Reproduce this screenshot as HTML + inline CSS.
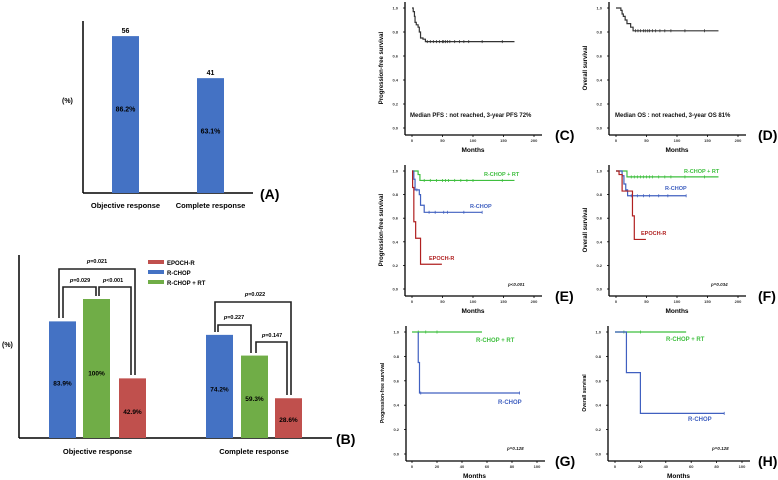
<!DOCTYPE html>
<html><head><meta charset="utf-8">
<style>
html,body{margin:0;padding:0;background:#fff;}
svg{display:block;font-family:"Liberation Sans",sans-serif;}
</style></head>
<body>
<svg id="fig" width="778" height="480" viewBox="0 0 778 480" xmlns="http://www.w3.org/2000/svg"></svg>
<script>
// ---- Panel A data
const aCats = ["Objective response","Complete response"];
const aVals = [86.2, 63.1];
const aCounts = ["56","41"];
// ---- Panel B data
const bCats = ["Objective response","Complete response"];
const bSeries = ["EPOCH-R","R-CHOP","R-CHOP + RT"];
const bBlue = [83.9, 74.2];
const bGreen = [100, 59.3];
const bRed = [42.9, 28.6];
// ---- KM data: [month, survival] step points
const cPFS = [[0,1],[2,0.97],[4,0.93],[5,0.88],[7,0.86],[10,0.84],[12,0.80],[14,0.75],[18,0.74],[22,0.72],[168,0.72]];
const cCens = [25,30,35,40,45,50,52,55,58,62,70,78,85,93,115,148];
const dOS = [[0,1],[8,0.98],[10,0.95],[12,0.93],[15,0.90],[18,0.87],[24,0.84],[28,0.81],[168,0.81]];
const dCens = [32,36,40,45,48,52,55,60,65,72,80,90,113,145];
const eGreen = [[0,1],[10,0.97],[13,0.92],[168,0.92]];
const eGreenCens = [20,30,40,50,55,60,70,80,90,100,148];
const eBlue = [[0,1],[3,0.93],[5,0.84],[12,0.80],[14,0.71],[20,0.65],[115,0.65]];
const eBlueCens = [8,28,38,52,58,85,115];
const eRed = [[0,1],[1,0.86],[3,0.57],[6,0.43],[14,0.21],[49,0.21]];
const fGreen = [[0,1],[18,0.95],[168,0.95]];
const fGreenCens = [25,30,35,40,45,50,55,60,70,80,90,113,145];
const fBlue = [[0,1],[10,0.96],[13,0.89],[16,0.84],[19,0.79],[115,0.79]];
const fBlueCens = [25,35,45,55,70,85,115];
const fRed = [[0,1],[5,0.97],[10,0.83],[27,0.62],[30,0.42],[49,0.42]];
const gGreen = [[0,1],[56,1]];
const gGreenCens = [5,11,20];
const gBlue = [[5,1],[5,0.75],[6,0.5],[86,0.5]];
const gBlueCens = [7,86];
const hGreen = [[0,1],[56,1]];
const hGreenCens = [7,20];
const hBlue = [[0,1],[9,0.667],[20,0.333],[86,0.333]];
const hBlueCens = [86];
const kmTicks200 = ["0","50","100","150","200"];
const kmTicks100 = ["0","20","40","60","80","100"];
const yTicks = ["0.0","0.2","0.4","0.6","0.8","1.0"];

const NS="http://www.w3.org/2000/svg";
const svg=document.getElementById('fig');
function mk(tag,attrs,parent){const e=document.createElementNS(NS,tag);for(const k in attrs)e.setAttribute(k,attrs[k]);(parent||svg).appendChild(e);return e;}
function txt(s,x,y,attrs,parent){const t=mk('text',Object.assign({x:x,y:y},attrs),parent);t.textContent=s;return t;}

const BLUE="#4472c4",GREEN="#70ad47",RED="#c0504d";

// ===== Panel A
(function(){
  const g=mk('g',{});
  
  
  const x0=83,base=193,scale=1.82;
  const ya=v=>base-v*scale;
  mk('line',{x1:x0,y1:21,x2:x0,y2:base,stroke:'#000','stroke-width':1.5},g);
  mk('line',{x1:x0,y1:base,x2:253,y2:base,stroke:'#000','stroke-width':1.5},g);
  txt('(%)',62,103,{'font-size':7,'font-weight':'bold'},g);
  const bx=[112,197];
  aVals.forEach((v,i)=>{
    const r=mk('rect',{x:bx[i],y:ya(v),width:27,height:base-ya(v),fill:BLUE},g);
    
    
    txt(aCounts[i],bx[i]+13.5,ya(v)-3,{'font-size':7,'font-weight':'bold','text-anchor':'middle'},g);
    txt(v+'%',bx[i]+13.5,ya(v)+(base-ya(v))*0.48,{'font-size':7,'font-weight':'bold','text-anchor':'middle'},g);
    txt(aCats[i],bx[i]+13.5,208,{'font-size':7.5,'font-weight':'bold','text-anchor':'middle'},g);
  });
  txt('(A)',260,199,{'font-size':14,'font-weight':'bold'},g);
})();

// ===== Panel B
(function(){
  const g=mk('g',{});
  
  
  const x0=19,base=438,scale=1.39;
  const yb=v=>base-v*scale;
  mk('line',{x1:x0,y1:255,x2:x0,y2:base,stroke:'#000','stroke-width':1.5},g);
  mk('line',{x1:x0,y1:base,x2:332,y2:base,stroke:'#000','stroke-width':1.5},g);
  txt('(%)',2,347,{'font-size':7,'font-weight':'bold'},g);
  const groups=[[49,83,119],[206,241,275]];
  const sets=[bBlue,bGreen,bRed],cols=[BLUE,GREEN,RED];
  bCats.forEach((c,i)=>{
    sets.forEach((arr,j)=>{
      const v=arr[i],x=groups[i][j];
      const r=mk('rect',{x:x,y:yb(v),width:27,height:base-yb(v),fill:cols[j]},g);
      
      
      txt(v+'%',x+13.5,yb(v)+(base-yb(v))*(j==2?0.6:0.55),{'font-size':6.5,'font-weight':'bold','text-anchor':'middle'},g);
    });
    txt(c,(groups[i][0]+groups[i][2]+27)/2,454,{'font-size':7.5,'font-weight':'bold','text-anchor':'middle'},g);
  });
  // legend
  const lc=[RED,BLUE,GREEN];
  bSeries.forEach((s,i)=>{
    const le=mk('rect',{x:148,y:260+i*10,width:16,height:4,fill:lc[i]},g);
    
    
    txt(s,167,265+i*10,{'font-size':6,'font-weight':'bold'},g);
  });
  // brackets
  function br(x1,y1,x2,y2,ytop,label,lx,ly){
    mk('polyline',{points:`${x1},${y1} ${x1},${ytop} ${x2},${ytop} ${x2},${y2}`,fill:'none',stroke:'#222','stroke-width':1.6},g);
    const t=txt('',lx,ly,{'font-size':5.5,'font-weight':'bold','text-anchor':'middle'},g);
    const it=mk('tspan',{'font-style':'italic'},t);it.textContent='p';
    const r=mk('tspan',{},t);r.textContent=label;
  }
  br(59,318,135,375,269,'=0.021',97,263);
  br(63,318,96,296,287,'=0.029',80,282);
  br(99,296,131,375,287,'<0.001',113,282);
  br(215,332,291,395,302,'=0.022',255,296);
  br(218,332,251,353,325,'=0.227',234,319);
  br(256,353,287,395,342,'=0.147',272,337);
  txt('(B)',336,444,{'font-size':14,'font-weight':'bold'},g);
})();

// ===== KM panels
function kmPanel(o){
  const g=mk('g',{});
  
  
  const X=m=>o.x0+(m/o.xmax)*(o.x1-o.x0);
  const Y=s=>o.y0-s*(o.y0-o.y1);
  const ax=o.ax;
  mk('line',{x1:ax,y1:o.y1-6,x2:ax,y2:o.axY,stroke:'#000','stroke-width':1.3},g);
  mk('line',{x1:ax,y1:o.axY,x2:o.x1+8,y2:o.axY,stroke:'#000','stroke-width':1.3},g);
  yTicks.forEach((t,i)=>{
    const y=Y(i/5);
    mk('line',{x1:ax-2,y1:y,x2:ax,y2:y,stroke:'#000','stroke-width':0.8},g);
    txt(t,ax-7,y+1.5,{'font-size':4,'text-anchor':'end','font-weight':'bold',fill:'#333'},g);
  });
  o.xt.forEach((t,i)=>{
    const x=X(i*o.xmax/(o.xt.length-1));
    mk('line',{x1:x,y1:o.axY,x2:x,y2:o.axY+2,stroke:'#000','stroke-width':0.8},g);
    txt(t,x,o.axY+7,{'font-size':4,'text-anchor':'middle','font-weight':'bold',fill:'#333'},g);
  });
  txt('Months',(o.x0+o.x1)/2,o.axY+17,{'font-size':6.5,'font-weight':'bold','text-anchor':'middle'},g);
  const yl=txt(o.ylab,0,0,{'font-size':o.ylfs||6,'font-weight':'bold','text-anchor':'middle',transform:`translate(${ax-22},${(o.y0+o.y1)/2}) rotate(-90)`},g);
  o.series.forEach((s,si)=>{
    let d='';
    s.pts.forEach((p,i)=>{
      if(i==0)d+=`M${X(p[0])},${Y(p[1])}`;
      else d+=`H${X(p[0])}V${Y(p[1])}`;
    });
    const path=mk('path',{d:d,fill:'none',stroke:s.c,'stroke-width':1.2},g);
    
    
    (s.cens||[]).forEach(m=>{
      let sv=s.pts[0][1];
      s.pts.forEach(p=>{if(p[0]<=m)sv=p[1];});
      mk('line',{x1:X(m),y1:Y(sv)-1.5,x2:X(m),y2:Y(sv)+1.5,stroke:s.c,'stroke-width':0.8},g);
    });
  });
  (o.labels||[]).forEach(l=>{
    const t=txt(l[0],l[1],l[2],{'font-size':l[4]||6,'font-weight':'bold',fill:l[3],'font-style':l[5]||'normal'},g);
  });
  txt(o.tag,o.tagx,o.axY+5,{'font-size':14,'font-weight':'bold'},g);
}
const K='#333';
kmPanel({name:'panel-c',ax:405,x0:412,x1:534,xmax:200,y0:128,y1:8,axY:135,xt:kmTicks200,ylab:'Progression-free survival',
  series:[{pts:cPFS,cens:cCens,c:K}],labels:[['Median PFS : not reached, 3-year PFS 72%',410,117,'#111',6]],tag:'(C)',tagx:555});
kmPanel({name:'panel-d',ax:609,x0:616,x1:738,xmax:200,y0:128,y1:8,axY:135,xt:kmTicks200,ylab:'Overall survival',
  series:[{pts:dOS,cens:dCens,c:K}],labels:[['Median OS : not reached, 3-year OS 81%',615,117,'#111',6]],tag:'(D)',tagx:758});
kmPanel({name:'panel-e',ax:405,x0:412,x1:534,xmax:200,y0:289,y1:171,axY:296,xt:kmTicks200,ylab:'Progression-free survival',
  series:[{pts:eGreen,cens:eGreenCens,c:'#3fbf3f'},{pts:eBlue,cens:eBlueCens,c:'#4060c0'},{pts:eRed,c:'#b02020'}],
  labels:[['R-CHOP + RT',484,176,'#3fbf3f',5.5],['R-CHOP',470,208,'#4060c0',5.5],['EPOCH-R',429,260,'#b02020',5.5],['p<0.001',508,286,'#222',4.5,'italic']],tag:'(E)',tagx:555});
kmPanel({name:'panel-f',ax:609,x0:616,x1:738,xmax:200,y0:289,y1:171,axY:296,xt:kmTicks200,ylab:'Overall survival',
  series:[{pts:fGreen,cens:fGreenCens,c:'#3fbf3f'},{pts:fBlue,cens:fBlueCens,c:'#4060c0'},{pts:fRed,c:'#b02020'}],
  labels:[['R-CHOP + RT',684,173,'#3fbf3f',5.5],['R-CHOP',665,190,'#4060c0',5.5],['EPOCH-R',641,235,'#b02020',5.5],['p=0.034',711,286,'#222',4.5,'italic']],tag:'(F)',tagx:758});
kmPanel({name:'panel-g',ax:406,x0:412,x1:537,xmax:100,y0:454,y1:332,axY:461,xt:kmTicks100,ylab:'Progression-free survival',ylfs:5,
  series:[{pts:gGreen,cens:gGreenCens,c:'#3fbf3f'},{pts:gBlue,cens:gBlueCens,c:'#4060c0'}],
  labels:[['R-CHOP + RT',476,342,'#3fbf3f',6],['R-CHOP',498,404,'#4060c0',6],['p=0.128',507,450,'#222',4.5,'italic']],tag:'(G)',tagx:555});
kmPanel({name:'panel-h',ax:608,x0:615,x1:742,xmax:100,y0:454,y1:332,axY:461,xt:kmTicks100,ylab:'Overall survival',ylfs:5,
  series:[{pts:hGreen,cens:hGreenCens,c:'#3fbf3f'},{pts:hBlue,cens:hBlueCens,c:'#4060c0'}],
  labels:[['R-CHOP + RT',666,341,'#3fbf3f',6],['R-CHOP',688,421,'#4060c0',6],['p=0.128',712,450,'#222',4.5,'italic']],tag:'(H)',tagx:758});
</script>
</body></html>
